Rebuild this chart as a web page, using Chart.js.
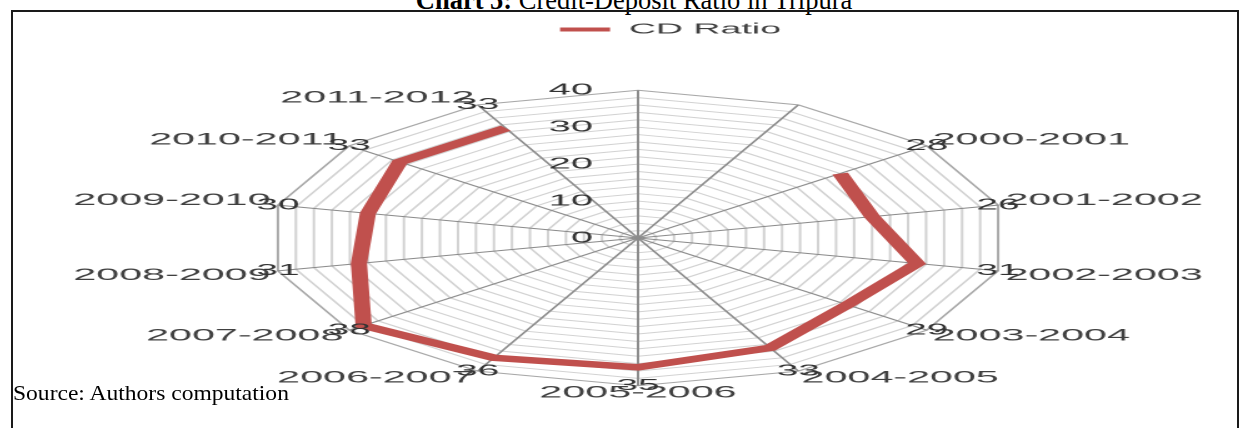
<!DOCTYPE html>
<html>
<head>
<meta charset="utf-8">
<script src="https://cdn.jsdelivr.net/npm/chart.js@4/dist/chart.umd.min.js"></script>
<style>
  html, body { margin: 0; padding: 0; background: #fff; overflow: hidden; }
  body { position: relative; width: 1240px; height: 428px; }
  .title {
    position: absolute; left: 14px; top: -13px; width: 1240px;
    text-align: center; white-space: nowrap;
    font: 26.5px/26.5px "Liberation Serif", "Times New Roman", serif; color: #000;
  }
  .frame {
    position: absolute; left: 11px; top: 10px; width: 1228px; height: 440px;
    box-sizing: border-box; border: 2px solid #1a1a1a;
  }
  /* the radar is drawn narrow and stretched sideways */
  .wrap {
    position: absolute; left: 383px; top: 13.5px; width: 510px; height: 384px;
    transform: scaleX(2.5); transform-origin: 50% 50%;
  }
  .source {
    position: absolute; left: 13px; top: 382px; white-space: nowrap;
    font: 22px/22px "Liberation Serif", "Times New Roman", serif; color: #000;
    transform: scaleX(1.07); transform-origin: 0 0;
  }
</style>
</head>
<body>
<div class="title"><b>Chart 5:</b> Credit-Deposit Ratio in Tripura</div>
<div class="frame"></div>
<div class="wrap"><canvas id="cdChart"></canvas></div>
<div class="source">Source: Authors computation</div>

<script>
// two unlabeled spokes at the top, then the financial years clockwise
const categories = ['', '', '2000-2001', '2001-2002', '2002-2003', '2003-2004', '2004-2005',
  '2005-2006', '2006-2007', '2007-2008', '2008-2009', '2009-2010', '2010-2011', '2011-2012'];
const cdRatio = [null, null, 28, 26, 31, 29, 33, 35, 36, 38, 31, 30, 33, 33];
const tickValues = [0, 10, 20, 30, 40];

const textFont = 'Liberation Sans';

// extra room under the legend, and nudge it a little to the right
const legendSpacing = {
  id: 'legendSpacing',
  beforeInit(chart) {
    if (!chart.legend) return;
    const fit = chart.legend.fit;
    chart.legend.fit = function () {
      fit.call(this);
      this.height += 32;
    };
  },
  afterLayout(chart) {
    chart.legend.left += 13;
    chart.legend.right += 13;
  }
};

// axis numbers beside the top spoke and the value of each year at the rim
const valueText = {
  id: 'valueText',
  afterDatasetsDraw(chart) {
    const ctx = chart.ctx;
    const r = chart.scales.r;
    ctx.save();
    ctx.fillStyle = '#333';
    ctx.textBaseline = 'middle';

    ctx.font = '16px "' + textFont + '"';
    ctx.textAlign = 'right';
    tickValues.forEach(v => {
      ctx.fillText(String(v), r.xCenter - 18, r.yCenter - r.getDistanceFromCenterForValue(v));
    });

    ctx.font = '15.5px "' + textFont + '"';
    ctx.textAlign = 'center';
    cdRatio.forEach((v, i) => {
      if (v === null) return;
      const p = r.getPointPositionForValue(i, r.max);
      ctx.fillText(String(v), p.x, p.y);
    });
    ctx.restore();
  }
};

new Chart(document.getElementById('cdChart'), {
  type: 'radar',
  data: {
    labels: categories,
    datasets: [{
      label: 'CD Ratio',
      data: cdRatio,
      borderColor: '#c0504d',
      backgroundColor: '#c0504d',
      borderWidth: 6.5,
      pointRadius: 0,
      pointHoverRadius: 0,
      fill: false,
      spanGaps: false
    }]
  },
  options: {
    responsive: true,
    maintainAspectRatio: false,
    animation: false,
    devicePixelRatio: 2,
    plugins: {
      legend: {
        labels: {
          boxWidth: 20,
          boxHeight: 4,
          padding: 8,
          color: '#404040',
          font: { family: textFont, size: 15 },
          generateLabels: chart => Chart.defaults.plugins.legend.labels.generateLabels(chart)
            .map(item => Object.assign(item, { lineWidth: 0 }))
        }
      },
      tooltip: { enabled: false }
    },
    scales: {
      r: {
        min: 0,
        max: 40,
        ticks: { display: false, stepSize: 2 },
        grid: {
          color: c => (c.tick && c.tick.value === 40 ? '#a8a8a8' : '#d2d2d2'),
          lineWidth: 1
        },
        angleLines: { color: '#8c8c8c', lineWidth: 1 },
        pointLabels: {
          padding: 3,
          color: '#404040',
          // short line box keeps each year close to its spoke end
          font: { family: textFont, size: 16.5, lineHeight: 0.5 }
        }
      }
    }
  },
  plugins: [legendSpacing, valueText]
});
</script>
</body>
</html>
